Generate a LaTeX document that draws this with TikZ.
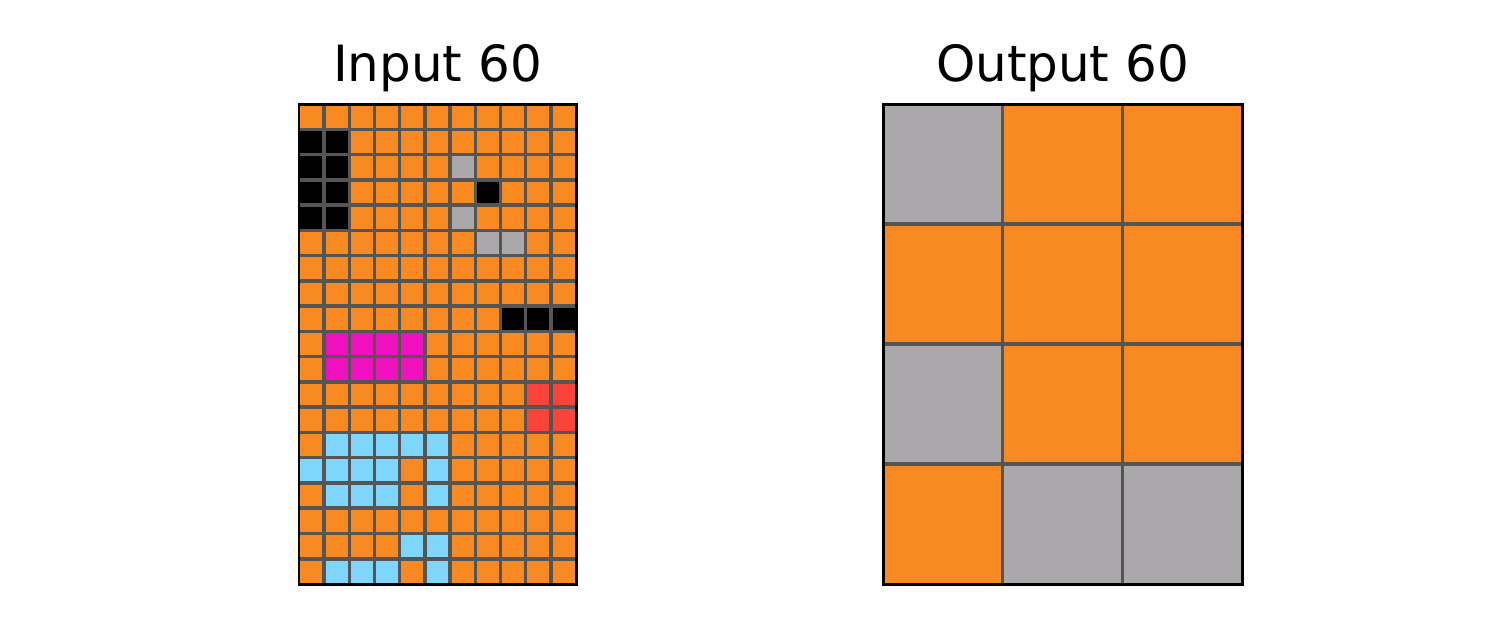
\documentclass[tikz,border=0pt]{standalone}
\usepackage{fontspec}
\setmainfont{DejaVu Sans}
\definecolor{colO}{HTML}{F98A22}
\definecolor{colK}{HTML}{000000}
\definecolor{colG}{HTML}{AAA8AB}
\definecolor{colM}{HTML}{F012BE}
\definecolor{colR}{HTML}{FB4439}
\definecolor{colC}{HTML}{7FD6FC}
\definecolor{gridgray}{HTML}{555555}
\tikzset{
  gridline/.style={draw=gridgray, line width=1.0pt},
  frameline/.style={draw=black, line width=0.85pt},
  titletext/.style={font=\fontsize{14.2pt}{16pt}\selectfont, anchor=base, inner sep=0pt}
}
\begin{document}
\begin{tikzpicture}[x=0.01cm, y=-0.01cm]
\useasboundingbox (0,0) rectangle (1500,629);
% ---------- input grid ----------
\def\icw{25.1818}
\def\ich{25.2632}
\foreach \row [count=\r from 0] in {
 {O,O,O,O,O,O,O,O,O,O,O},
 {K,K,O,O,O,O,O,O,O,O,O},
 {K,K,O,O,O,O,G,O,O,O,O},
 {K,K,O,O,O,O,O,K,O,O,O},
 {K,K,O,O,O,O,G,O,O,O,O},
 {O,O,O,O,O,O,O,G,G,O,O},
 {O,O,O,O,O,O,O,O,O,O,O},
 {O,O,O,O,O,O,O,O,O,O,O},
 {O,O,O,O,O,O,O,O,K,K,K},
 {O,M,M,M,M,O,O,O,O,O,O},
 {O,M,M,M,M,O,O,O,O,O,O},
 {O,O,O,O,O,O,O,O,O,R,R},
 {O,O,O,O,O,O,O,O,O,R,R},
 {O,C,C,C,C,C,O,O,O,O,O},
 {C,C,C,C,O,C,O,O,O,O,O},
 {O,C,C,C,O,C,O,O,O,O,O},
 {O,O,O,O,O,O,O,O,O,O,O},
 {O,O,O,O,C,C,O,O,O,O,O},
 {O,C,C,C,O,C,O,O,O,O,O}} {
  \foreach \c [count=\k from 0] in \row {
    \fill[col\c] ({299+\k*\icw},{104+\r*\ich}) rectangle ({299+(\k+1)*\icw},{104+(\r+1)*\ich});
  }
}
\foreach \k in {1,...,10} \draw[gridline] ({299+\k*\icw},104) -- ({299+\k*\icw},584);
\foreach \r in {1,...,18} \draw[gridline] (299,{104+\r*\ich}) -- (576,{104+\r*\ich});
\draw[frameline] (299,104) rectangle (576,584);
\node[titletext] (tin) at (437.5,81.7) {Input 60};
% ---------- output grid ----------
\def\ocw{119.6667}
\def\och{120}
\foreach \row [count=\r from 0] in {
 {G,O,O},
 {O,O,O},
 {G,O,O},
 {O,G,G}} {
  \foreach \c [count=\k from 0] in \row {
    \fill[col\c] ({883+\k*\ocw},{104+\r*\och}) rectangle ({883+(\k+1)*\ocw},{104+(\r+1)*\och});
  }
}
\foreach \k in {1,2} \draw[gridline] ({883+\k*\ocw},104) -- ({883+\k*\ocw},584);
\foreach \r in {1,2,3} \draw[gridline] (883,{104+\r*\och}) -- (1242,{104+\r*\och});
\draw[frameline] (883,104) rectangle (1242,584);
\node[titletext] (tout) at (1062.5,81.7) {Output 60};
\end{tikzpicture}
\end{document}
